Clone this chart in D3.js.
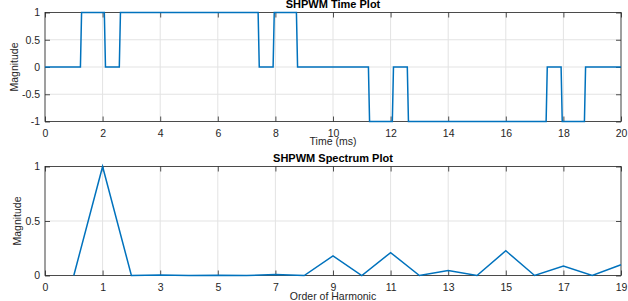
<!DOCTYPE html>
<html>
<head>
<meta charset="utf-8">
<script src="https://cdn.jsdelivr.net/npm/d3@7"></script>
<style>
  body { margin: 0; background: #fff; }
  svg text { font-family: "Liberation Sans", Arial, sans-serif; }
</style>
</head>
<body>
<div id="chart"></div>
<script>
// time plot vertices (ms, level)
const timeMs = [0, 1.23, 1.27, 2.06, 2.10, 2.58, 2.62, 7.40, 7.44, 7.92, 7.96, 8.73, 8.77,
  11.23, 11.27, 12.06, 12.10, 12.58, 12.62, 17.40, 17.44, 17.92, 17.96, 18.73, 18.77, 20];
const levels = [0, 0, 1, 1, 0, 0, 1, 1, 0, 0, 1, 1, 0,
  0, -1, -1, 0, 0, -1, -1, 0, 0, -1, -1, 0, 0];

// spectrum (harmonic order 0..19)
const harmonics = d3.range(0, 20);
const magnitudes = [0, 1, 0, 0.005, 0, 0.003, 0, 0.01, 0, 0.18,
  0, 0.21, 0, 0.046, 0, 0.227, 0, 0.086, 0, 0.098];
const specTickLabels = ["0", "1", "3", "5", "7", "9", "11", "13", "15", "17", "19"];

const W = 628, H = 301;
const blue = "#0072bd", axisCol = "#262626", gridCol = "#e3e3e3", tickCol = "#262626";

const svg = d3.select("#chart").append("svg")
  .attr("width", W).attr("height", H);

function panel(opt) {
  const { top, bottom, x, y, xTicks, xFmt, yTicks, yFmt, title, xlabel, ylabelX, xlabelY, titleY } = opt;
  const left = x.range()[0], right = x.range()[1];
  const g = svg.append("g");

  // grid
  g.append("g").selectAll("line.vx").data(xTicks).join("line")
    .attr("x1", d => x(d)).attr("x2", d => x(d))
    .attr("y1", top).attr("y2", bottom)
    .attr("stroke", gridCol).attr("stroke-width", 1);
  g.append("g").selectAll("line.hy").data(yTicks).join("line")
    .attr("y1", d => y(d)).attr("y2", d => y(d))
    .attr("x1", left).attr("x2", right)
    .attr("stroke", gridCol).attr("stroke-width", 1);

  // axes (ticks inward, on all sides)
  const tl = 5;
  g.append("g").attr("transform", `translate(0,${bottom})`)
    .call(d3.axisBottom(x).tickValues(xTicks).tickFormat(xFmt).tickSizeInner(-tl).tickSizeOuter(0).tickPadding(8));
  g.append("g").attr("transform", `translate(0,${top})`)
    .call(d3.axisTop(x).tickValues(xTicks).tickFormat("").tickSizeInner(-tl).tickSizeOuter(0));
  g.append("g").attr("transform", `translate(${left},0)`)
    .call(d3.axisLeft(y).tickValues(yTicks).tickFormat(yFmt).tickSizeInner(-tl).tickSizeOuter(0).tickPadding(5));
  g.append("g").attr("transform", `translate(${right},0)`)
    .call(d3.axisRight(y).tickValues(yTicks).tickFormat("").tickSizeInner(-tl).tickSizeOuter(0));
  g.selectAll(".domain").remove();
  g.selectAll(".tick line").attr("stroke", tickCol).attr("stroke-width", 0.8);
  g.selectAll(".tick text").attr("fill", axisCol).style("font-size", "10.5px");

  g.append("rect").attr("x", left).attr("y", top)
    .attr("width", right - left).attr("height", bottom - top)
    .attr("fill", "none").attr("stroke", axisCol).attr("stroke-width", 0.8);

  g.append("text").attr("x", (left + right) / 2).attr("y", titleY)
    .attr("text-anchor", "middle").style("font-size", "11px").style("font-weight", "bold")
    .attr("fill", "#000").text(title);
  g.append("text").attr("x", (left + right) / 2).attr("y", xlabelY)
    .attr("text-anchor", "middle").style("font-size", "10.5px").attr("fill", axisCol).text(xlabel);
  g.append("text")
    .attr("transform", `translate(${ylabelX},${(top + bottom) / 2}) rotate(-90)`)
    .attr("text-anchor", "middle").style("font-size", "10.5px").attr("fill", axisCol).text("Magnitude");
  return g;
}

// ---- time plot
const x1 = d3.scaleLinear().domain([0, 20]).range([45, 621]);
const y1 = d3.scaleLinear().domain([-1, 1]).range([121.5, 12.5]);
const g1 = panel({
  top: 12.5, bottom: 121.5, x: x1, y: y1,
  xTicks: d3.range(0, 21, 2), xFmt: d3.format("d"),
  yTicks: [-1, -0.5, 0, 0.5, 1], yFmt: d => d,
  title: "SHPWM Time Plot", xlabel: "Time (ms)", ylabelX: 18, xlabelY: 145, titleY: 8
});
g1.append("path")
  .datum(timeMs.map((t, i) => [t, levels[i]]))
  .attr("fill", "none").attr("stroke", blue).attr("stroke-width", 1.5)
  .attr("d", d3.line().x(d => x1(d[0])).y(d => y1(d[1])));

// ---- spectrum plot: ticks at 0..10, harmonic h sits at (h+1)/2
const x2 = d3.scaleLinear().domain([0, 10]).range([45, 621]);
const y2 = d3.scaleLinear().domain([0, 1]).range([275.5, 166.5]);
const g2 = panel({
  top: 166.5, bottom: 275.5, x: x2, y: y2,
  xTicks: d3.range(0, 11), xFmt: (d, i) => specTickLabels[i],
  yTicks: [0, 0.5, 1], yFmt: d => d,
  title: "SHPWM Spectrum Plot", xlabel: "Order of Harmonic", ylabelX: 21, xlabelY: 300, titleY: 162
});
g2.append("path")
  .datum(harmonics.map((h, i) => [(h + 1) / 2, magnitudes[i]]))
  .attr("fill", "none").attr("stroke", blue).attr("stroke-width", 1.5)
  .attr("d", d3.line().x(d => x2(d[0])).y(d => y2(d[1])));
</script>
</body>
</html>
